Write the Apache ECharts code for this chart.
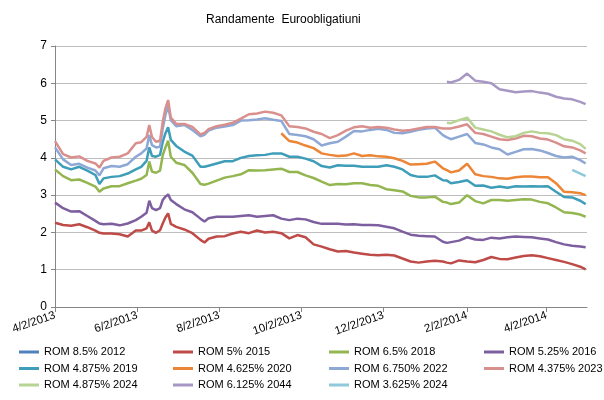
<!DOCTYPE html>
<html>
<head>
<meta charset="utf-8">
<title>Randamente Euroobligatiuni</title>
<script src="https://cdn.jsdelivr.net/npm/echarts@6/dist/echarts.min.js"></script>
<style>
  html, body { margin: 0; padding: 0; background: #fff; }
  #chart { width: 604px; height: 400px; }
</style>
</head>
<body>
<div id="chart"></div>
<script>
// sample dates (roughly weekly, denser around the June spikes)
var dates = [
  '2013-04-02','2013-04-08','2013-04-14','2013-04-20','2013-04-26','2013-05-02','2013-05-05','2013-05-08',
  '2013-05-14','2013-05-20','2013-05-26','2013-06-01','2013-06-05','2013-06-09','2013-06-11','2013-06-13',
  '2013-06-16','2013-06-19','2013-06-21','2013-06-23','2013-06-25','2013-06-27','2013-07-01','2013-07-07',
  '2013-07-13','2013-07-19','2013-07-22','2013-07-25','2013-07-31','2013-08-06','2013-08-12','2013-08-18',
  '2013-08-24','2013-08-30','2013-09-05','2013-09-11','2013-09-17','2013-09-23','2013-09-29','2013-10-05',
  '2013-10-11','2013-10-17','2013-10-23','2013-10-29','2013-11-04','2013-11-10','2013-11-16','2013-11-22',
  '2013-11-28','2013-12-04','2013-12-10','2013-12-16','2013-12-22','2013-12-28','2014-01-03','2014-01-09',
  '2014-01-15','2014-01-18','2014-01-21','2014-01-27','2014-02-02','2014-02-08','2014-02-14','2014-02-20',
  '2014-02-26','2014-03-04','2014-03-10','2014-03-16','2014-03-22','2014-03-28','2014-04-03','2014-04-09',
  '2014-04-15','2014-04-21','2014-04-27','2014-05-01'
];

var tickDates = ['2013-04-02','2013-06-02','2013-08-02','2013-10-02','2013-12-02','2014-02-02','2014-04-02'];
var axisStart = '2013-04-02', axisEnd = '2014-05-02';

// leading gap for bonds that start later
function lead(n, vals) { return new Array(n).fill(null).concat(vals); }

var rom85_2012 = [];
var rom5_2015 = [2.26,2.20,2.18,2.22,2.14,2.05,1.99,1.97,1.97,1.95,1.89,2.05,
  2.05,2.11,2.27,2.05,1.99,2.06,2.24,2.40,2.51,2.23,
  2.15,2.08,1.98,1.80,1.73,1.83,
  1.89,1.90,1.97,2.02,1.98,2.05,2.00,2.02,1.98,1.84,1.93,1.87,1.68,1.62,1.55,1.49,1.50,1.46,1.43,1.40,1.39,1.40,1.38,1.30,1.22,1.19,1.22,1.24,1.22,
  1.19,1.17,
  1.25,1.22,1.20,1.26,1.34,1.29,1.28,1.33,1.37,1.39,1.36,1.31,1.26,1.21,1.15,1.08,
  1.01];
var rom65_2018 = [3.69,3.51,3.40,3.42,3.33,3.23,3.09,3.18,3.24,3.24,3.32,3.39,
  3.44,3.54,3.90,3.63,3.60,3.66,4.07,4.28,4.46,4.03,
  3.87,3.81,3.60,3.30,3.28,3.31,
  3.39,3.47,3.51,3.56,3.67,3.66,3.67,3.69,3.71,3.62,3.62,3.53,3.46,3.36,3.27,3.30,3.29,3.32,3.32,3.27,3.25,3.16,3.13,3.10,2.98,2.94,2.94,2.96,2.82,
  2.80,2.76,
  2.80,3.00,2.84,2.78,2.87,2.87,2.85,2.87,2.89,2.88,2.82,2.78,2.67,2.54,2.52,2.48,
  2.42];
var rom525_2016 = [2.80,2.65,2.56,2.57,2.44,2.31,2.24,2.22,2.23,2.19,2.24,2.33,
  2.42,2.53,2.85,2.65,2.60,2.65,2.87,2.96,3.02,2.87,
  2.76,2.62,2.54,2.37,2.29,2.38,
  2.42,2.42,2.42,2.44,2.46,2.42,2.44,2.46,2.37,2.33,2.37,2.35,2.28,2.23,2.23,2.23,2.21,2.22,2.20,2.20,2.19,2.15,2.11,2.02,1.94,1.91,1.90,1.89,1.75,
  1.72,1.74,
  1.78,1.87,1.81,1.80,1.86,1.84,1.87,1.89,1.88,1.87,1.84,1.81,1.74,1.68,1.64,1.62,
  1.60];
var rom4875_2019 = [3.96,3.76,3.69,3.76,3.66,3.54,3.30,3.45,3.49,3.51,3.58,3.69,
  3.76,3.92,4.28,4.05,4.03,4.08,4.43,4.66,4.82,4.48,
  4.32,4.17,4.06,3.76,3.76,3.79,
  3.85,3.91,3.91,4.00,4.05,4.07,4.08,4.12,4.12,4.03,4.03,3.98,3.91,3.78,3.74,3.80,3.79,3.79,3.76,3.76,3.76,3.80,3.76,3.69,3.54,3.49,3.49,3.53,3.40,
  3.39,3.32,
  3.35,3.40,3.25,3.26,3.20,3.23,3.20,3.24,3.23,3.24,3.23,3.24,3.09,2.95,2.94,2.85,
  2.76];
var rom4625_2020 = lead(36, [4.66,4.45,4.41,4.33,4.26,4.12,4.08,4.05,4.06,4.12,4.05,4.07,4.04,4.03,3.99,3.92,3.82,3.83,3.84,3.90,3.72,
  3.67,3.61,
  3.66,3.84,3.56,3.51,3.49,3.45,3.44,3.48,3.50,3.50,3.48,3.48,3.32,3.09,3.08,3.05,
  3.00]);
var rom675_2022 = [4.28,3.96,3.81,3.84,3.74,3.66,3.53,3.72,3.78,3.76,3.83,4.03,
  4.12,4.25,4.61,4.34,4.28,4.30,4.79,5.15,5.39,5.01,
  4.85,4.88,4.75,4.58,4.62,4.73,
  4.81,4.84,4.88,5.00,5.01,5.03,5.06,5.02,4.99,4.64,4.61,4.58,4.50,4.33,4.39,4.43,4.57,4.72,4.71,4.75,4.78,4.75,4.67,4.66,4.70,4.75,4.79,4.81,4.61,
  4.55,4.50,
  4.57,4.64,4.40,4.36,4.28,4.23,4.09,4.16,4.23,4.24,4.20,4.13,4.05,4.01,4.03,3.94,
  3.85];
var rom4375_2023 = [4.45,4.10,4.01,4.04,3.92,3.85,3.74,3.92,4.01,4.03,4.12,4.39,
  4.42,4.56,4.88,4.56,4.43,4.46,4.97,5.33,5.55,5.08,
  4.91,4.91,4.83,4.63,4.67,4.77,
  4.85,4.89,4.94,5.05,5.17,5.19,5.24,5.21,5.14,4.85,4.83,4.79,4.70,4.64,4.53,4.61,4.73,4.82,4.85,4.81,4.83,4.81,4.76,4.73,4.75,4.79,4.83,4.83,4.79,
  4.79,4.79,
  4.84,4.90,4.67,4.64,4.57,4.50,4.48,4.52,4.59,4.58,4.52,4.49,4.41,4.31,4.28,4.20,
  4.12];
var rom4875_2024 = lead(57, [4.94,4.93,5.01,5.08,4.81,4.76,4.71,4.62,4.55,4.58,4.67,4.71,4.67,4.66,4.61,4.50,4.46,4.37,4.24]);
var rom6125_2044 = lead(57, [6.04,6.02,6.09,6.26,6.07,6.04,6.00,5.84,5.80,5.76,5.78,5.79,5.75,5.72,5.64,5.59,5.57,5.50,5.44]);
var rom3625_2024 = lead(73, [3.68,3.58,3.51]);

var bonds = [
  { name: 'ROM 8.5% 2012',    color: '#4F81BD', data: rom85_2012 },
  { name: 'ROM 5% 2015',      color: '#BE4B48', data: rom5_2015 },
  { name: 'ROM 6.5% 2018',    color: '#93B650', data: rom65_2018 },
  { name: 'ROM 5.25% 2016',   color: '#7D5FA0', data: rom525_2016 },
  { name: 'ROM 4.875% 2019',  color: '#3E9DB8', data: rom4875_2019 },
  { name: 'ROM 4.625% 2020',  color: '#EC8535', data: rom4625_2020 },
  { name: 'ROM 6.750% 2022',  color: '#8EA8D6', data: rom675_2022 },
  { name: 'ROM 4.375% 2023',  color: '#D9908D', data: rom4375_2023 },
  { name: 'ROM 4.875% 2024',  color: '#B8D493', data: rom4875_2024 },
  { name: 'ROM 6.125% 2044',  color: '#A797C5', data: rom6125_2044 },
  { name: 'ROM 3.625% 2024',  color: '#8FC9DB', data: rom3625_2024 }
];

var font = 'Liberation Sans, Arial, sans-serif';
function ts(s) { return echarts.number.parseDate(s).getTime(); }

var series = bonds.map(function (b) {
  return {
    name: b.name,
    type: 'line',
    showSymbol: false,
    symbol: 'none',
    color: b.color,
    lineStyle: { width: 2.5, color: b.color },
    data: b.data.map(function (v, i) { return [ts(dates[i]), v]; })
  };
});

// legend: 4 columns, items go row by row
var colLeft = [14, 168, 324, 479];
var legends = colLeft.map(function (x, c) {
  var names = [];
  for (var i = c; i < bonds.length; i += 4) names.push(bonds[i].name);
  return {
    orient: 'vertical',
    left: x,
    top: 341,
    itemWidth: 20,
    itemHeight: 3,
    itemGap: 4.5,
    icon: 'rect',
    selectedMode: false,
    data: names,
    textStyle: { fontFamily: font, fontSize: 11, color: '#000', lineHeight: 12 }
  };
});

var tickValues = tickDates.map(ts);

var chart = echarts.init(document.getElementById('chart'));
chart.setOption({
  animation: false,
  backgroundColor: '#fff',
  title: {
    text: 'Randamente  Euroobligatiuni',
    left: 201,
    top: 9,
    textStyle: { fontFamily: font, fontSize: 12, fontWeight: 'normal', color: '#000' }
  },
  legend: legends,
  grid: { left: 55, right: 17, top: 46, bottom: 93 },
  xAxis: {
    type: 'value',
    min: ts(axisStart),
    max: ts(axisEnd),
    axisLine: { lineStyle: { color: '#868686', width: 1 } },
    axisTick: { show: true, length: 5, lineStyle: { color: '#868686' }, customValues: tickValues },
    splitLine: { show: false },
    axisLabel: {
      customValues: tickValues,
      rotate: 19,
      margin: 8,
      fontFamily: font,
      fontSize: 11.5,
      color: '#000',
      formatter: function (v) {
        var d = new Date(v);
        return (d.getMonth() + 1) + '/' + d.getDate() + '/' + d.getFullYear();
      }
    }
  },
  yAxis: {
    type: 'value',
    min: 0,
    max: 7,
    interval: 1,
    axisLine: { show: true, lineStyle: { color: '#868686', width: 1 } },
    axisTick: { show: true, length: 4, lineStyle: { color: '#868686' } },
    splitLine: { show: true, lineStyle: { color: '#BEBEBE', width: 1 } },
    axisLabel: { margin: 8, fontFamily: font, fontSize: 12, color: '#000' }
  },
  series: series
});
</script>
</body>
</html>
